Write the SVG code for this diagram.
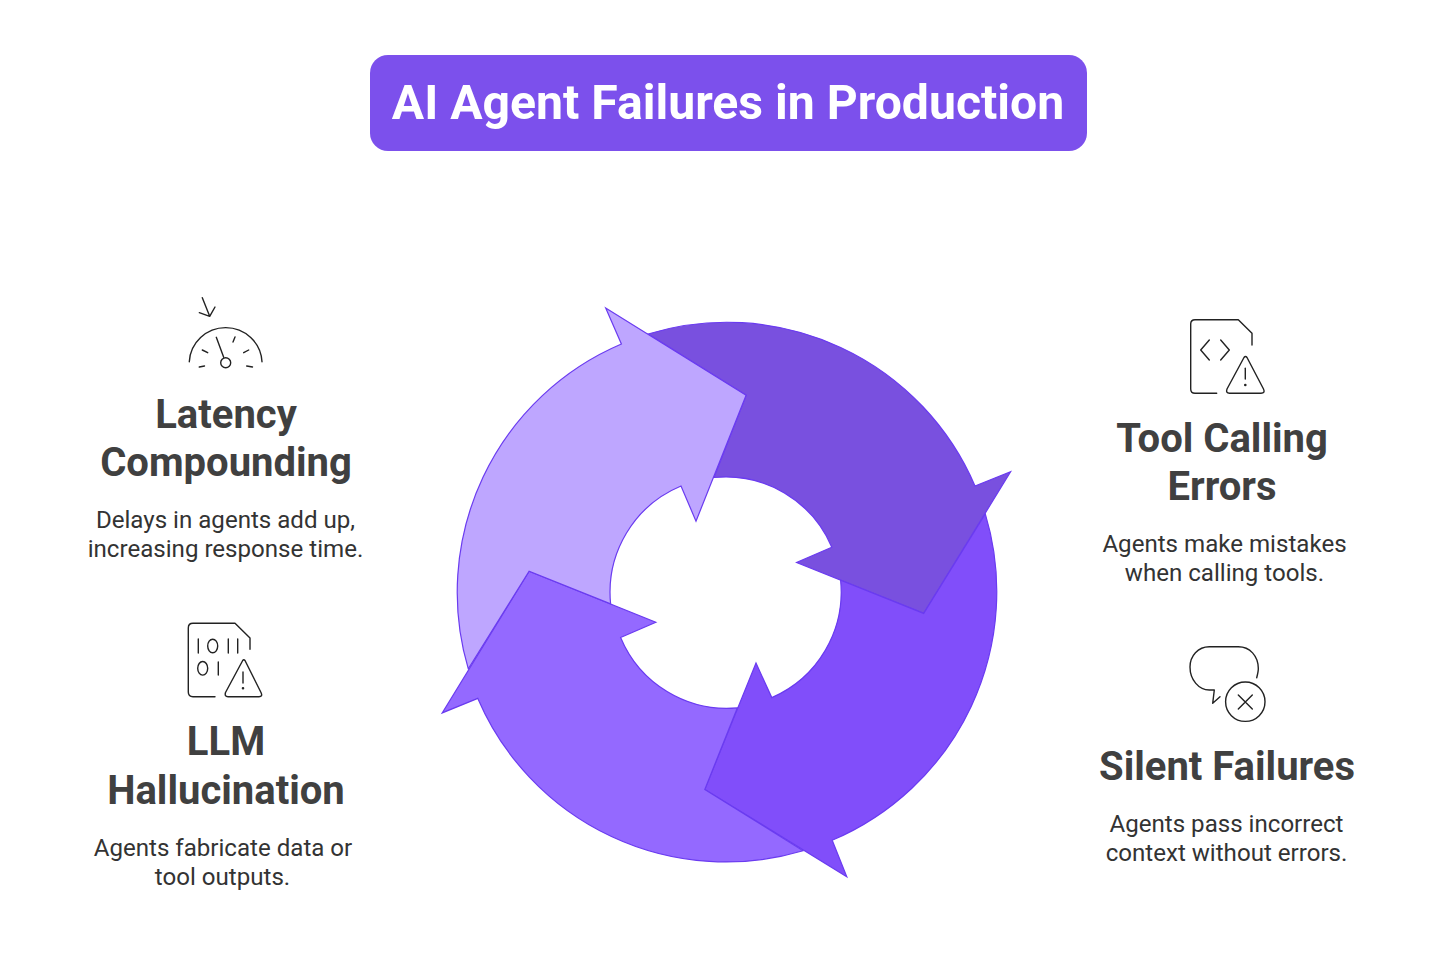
<svg xmlns="http://www.w3.org/2000/svg" width="1456" height="966" viewBox="0 0 1456 966">
<style>
text{font-family:Roboto,"Liberation Sans",sans-serif;text-anchor:middle}
.t{font-size:48.15px;font-weight:700;fill:#fff}
.h{font-size:40px;font-weight:700;fill:#404040}
.d{font-size:24.1px;fill:#333}
.i{fill:none;stroke:#222;stroke-width:1.4;stroke-linecap:round;stroke-linejoin:round}
.a{stroke:#6a3bf0;stroke-width:1.2;stroke-linejoin:miter}
</style>
<rect width="1456" height="966" fill="#fff"/>
<g id="title"><rect x="370" y="55" width="717" height="96" rx="18" fill="#7c50ec"/><text class="t" x="728" y="119">AI Agent Failures in Production</text></g>
<g id="connectors">
<path id="arrow-dark" class="a" fill="#7950df" d="M648.1 334A270 270 0 0 1 975 486L1010.6 471.8L923.7 613.4L796.6 562.5L831.8 547.2A115.3 115.3 0 0 0 714 477.5L746.1 395.2Z"/>
<path id="arrow-vivid" class="a" fill="#814efa" d="M985.3 513.9A270 270 0 0 1 832.2 840.3L846.8 876.7L704.8 789.4L756 663.1L771.8 697.6A115.3 115.3 0 0 0 840.6 580.1L923.7 613.4Z"/>
<path id="arrow-medium" class="a" fill="#9469ff" d="M803.1 850.7A270 270 0 0 1 477.8 698.4L442.2 712.9L529.1 571.3L655.8 622.2L620.6 637.5A115.3 115.3 0 0 0 737.3 707.9L704.8 789.4Z"/>
<path id="arrow-light" class="a" fill="#bea6ff" d="M468.3 668.9A270 270 0 0 1 621.4 344L605.7 308L746.1 395.2L696 521.2L681 486A115.3 115.3 0 0 0 610.6 603.8L529.1 571.3Z"/>
</g>
<g id="latency">
<g class="i"><path d="M202.3 297.7L209.7 316.3M199.3 312.7L209.7 316.3L215 307"/><path d="M189.3 361.7A36.4 36 0 0 1 262 361.7"/><path d="M216.3 337.3L223.7 357.3"/><circle cx="225.7" cy="362.7" r="5"/><path d="M202.3 350L207.7 352.7M199.3 367L204.5 366M233 342L235 337M243.7 352.7L248.7 350M246.7 366L252.5 367"/></g>
<text class="h" x="226" y="428">Latency</text><text class="h" x="226" y="476">Compounding</text>
<text class="d" x="225.5" y="528">Delays in agents add up,</text><text class="d" x="225.5" y="557">increasing response time.</text>
</g>
<g id="llm">
<g class="i"><path d="M215 696.7H193Q188.3 696.7 188.3 692V628Q188.3 623.3 193 623.3H235L250 638V649.3"/><path d="M198.3 639V653M228.3 639V653M237.7 639V653M218.3 662V675"/><ellipse cx="212.7" cy="646" rx="5" ry="6.8"/><ellipse cx="202.7" cy="668.3" rx="5" ry="6.8"/><path d="M242.7 660.5L225.5 692.5Q224.3 696.7 228 696.7H259Q263 696.7 261 692.5L245 660.5Q243.8 659 242.7 660.5Z"/><path d="M243 672V683"/><circle cx="243" cy="688.3" r=".6"/></g>
<text class="h" x="226" y="755">LLM</text><text class="h" x="226" y="804">Hallucination</text>
<text class="d" x="223" y="856">Agents fabricate data or</text><text class="d" x="222.5" y="885">tool outputs.</text>
</g>
<g id="tool">
<g class="i"><path d="M1216.7 393.3H1195Q1190.7 393.3 1190.7 389V324Q1190.7 319.7 1195 319.7H1238.3L1252 333.3V345"/><path d="M1209.3 340L1200.7 350L1209.3 360M1220.7 340L1229.3 350L1220.7 360"/><path d="M1244 357.5L1227 389Q1225.5 393.3 1229.5 393.3H1261Q1265.5 393.3 1263.5 389L1247 357.5Q1245.5 355.5 1244 357.5Z"/><path d="M1245.3 368.3V379"/><circle cx="1245.3" cy="385" r=".6"/></g>
<text class="h" x="1222" y="452">Tool Calling</text><text class="h" x="1222" y="500">Errors</text>
<text class="d" x="1224.5" y="552">Agents make mistakes</text><text class="d" x="1224.5" y="581">when calling tools.</text>
</g>
<g id="silent">
<g class="i"><path d="M1256.7 677.7Q1258.5 671 1258.3 668C1258 656 1250 646.7 1238.3 646.7H1209.3C1198 646.7 1190 656 1190 667C1190 680 1199 690 1209.3 690H1214.3L1212.7 703.3L1220 696.7"/><circle cx="1245.3" cy="701.7" r="19.7"/><path d="M1238.3 695L1252.3 709M1252.3 695L1238.3 709"/></g>
<text class="h" x="1227" y="780">Silent Failures</text>
<text class="d" x="1226.5" y="832">Agents pass incorrect</text><text class="d" x="1226.5" y="861">context without errors.</text>
</g>
</svg>
